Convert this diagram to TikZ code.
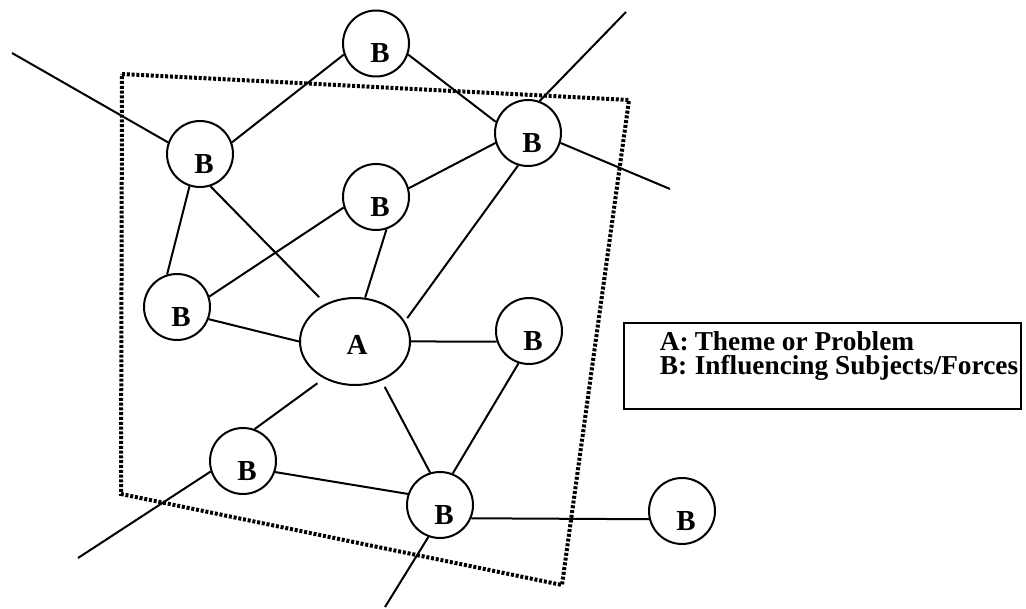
\documentclass[tikz,border=0pt]{standalone}
\usepackage{fontspec}
\setmainfont{Liberation Serif}
\usetikzlibrary{shapes.geometric}
\begin{document}
\begin{tikzpicture}[x=1pt,y=-1pt,
  edge/.style={line width=2pt},
  bnode/.style={circle, draw, line width=2pt, minimum size=66pt, inner sep=0pt,
    font=\bfseries\fontsize{29}{29}\selectfont, text height=39pt, text depth=0pt},
  anode/.style={ellipse, draw, line width=2pt, minimum width=110pt, minimum height=87pt, inner sep=0pt,
    font=\bfseries\fontsize{29}{29}\selectfont, text height=26pt, text depth=0pt},
  frame/.style={line width=4pt, dash pattern=on 3pt off 1.8pt},
  legendbox/.style={draw, line width=1.6pt, inner sep=0pt, minimum width=397pt, minimum height=86pt,
    text height=10pt, text depth=41.4pt, anchor=north west}
]
\useasboundingbox (0,0) rectangle (1026,609);

% dotted frame
\draw[frame] (122,74) -- (629,100) -- (562,585) -- (121,494) -- cycle;

% nodes
\node[bnode] (b1) at (376,43.5) {\hspace*{8pt}B};
\node[bnode] (b2) at (200,154) {\hspace*{8pt}B};
\node[bnode] (b3) at (528,133) {\hspace*{8pt}B};
\node[bnode] (b4) at (376,197) {\hspace*{8pt}B};
\node[bnode] (b5) at (177,307) {\hspace*{8pt}B};
\node[anode] (A) at (355,341.5) {\hspace*{4pt}A};
\node[bnode] (b6) at (529,331) {\hspace*{8pt}B};
\node[bnode] (b7) at (243,461) {\hspace*{8pt}B};
\node[bnode] (b8) at (440,505) {\hspace*{8pt}B};
\node[bnode] (b9) at (682,511) {\hspace*{8pt}B};

% free ends
\coordinate (tl) at (12,53);
\coordinate (tr) at (626,12);
\coordinate (rr) at (670,189);
\coordinate (ll) at (78,558);
\coordinate (bt) at (385,607);

% connectors
\draw[edge] (b2.160) -- (tl);
\draw[edge] (b2.20) -- (b1.199);
\draw[edge] (b1.341) -- (b3.161);
\draw[edge] (b3.70) -- (tr);
\draw[edge] (b3.343) -- (rr);
\draw[edge] (b4.15) -- (b3.197);
\draw[edge, shorten >=4pt] (b3.253) -- (A.22);
\draw[edge] (b4.288) -- (A.77);
\draw[edge] (b4.198) -- (b5.18);
\draw[edge] (b2.252) -- (b5.107);
\draw[edge, shorten >=9pt] (b2.288) -- (A.128);
\draw[edge] (b5.339) -- (A.180);
\draw[edge] (A.0) -- (b6.198);
\draw[edge, shorten <=8pt] (A.230) -- (b7.70);
\draw[edge, shorten <=7pt] (A.304) -- (b8.107);
\draw[edge] (b6.252) -- (b8.68);
\draw[edge] (b7.341) -- (b8.161);
\draw[edge] (b7.198) -- (ll);
\draw[edge] (b8.250) -- (bt);
\draw[edge] (b8.337) -- (b9.194);

% legend
\node[legendbox] (legend) at (623,322) {\parbox[t]{397pt}{\bfseries\fontsize{27.3}{24}\selectfont
  \lineskiplimit=-100pt
  \hspace*{36pt}\makebox[35pt][l]{A:}Theme or Problem\par
  \hspace*{36pt}\makebox[35pt][l]{B:}Influencing Subjects/Forces}};
\end{tikzpicture}
\end{document}
